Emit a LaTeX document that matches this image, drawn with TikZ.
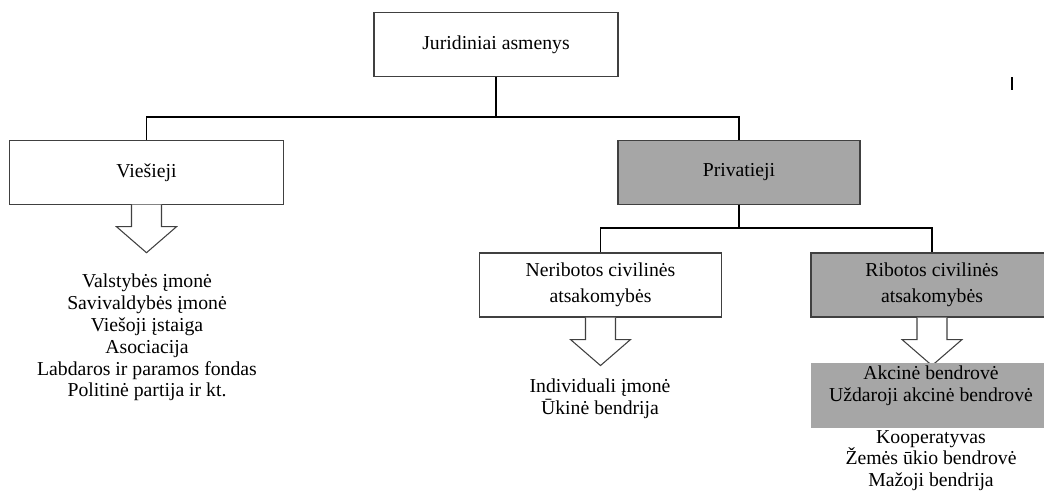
\documentclass[tikz,border=0pt]{standalone}
\usepackage{fontspec}
\setmainfont{Liberation Serif}
\definecolor{boxgray}{HTML}{A6A6A6}
\definecolor{edgegray}{HTML}{404040}

\begin{document}
\begin{tikzpicture}[x=0.75pt,y=-0.75pt,
	font=\fontsize{14.8}{16.4}\selectfont,
	box/.style={draw=edgegray, line width=0.8pt, fill=white, align=center,
		inner sep=0pt, minimum height=47.5pt},
	shadebox/.style={box, fill=boxgray},
	conn/.style={line width=1.1pt, black},
	barrow/.style={draw=edgegray, line width=0.8pt, fill=white},
	list/.style={align=center, inner sep=0pt}]

\def\shaftw{15}
\def\shafth{22}
\def\headw{30}
\def\headh{48}

\path [use as bounding box] (0,0) rectangle (1044,492);

% Boxes
\node [box, minimum width=183pt] (juridiniai) at (496,44.5) {Juridiniai asmenys};
\node [box, minimum width=205pt] (viesieji) at (146.5,172.5) {Viešieji};
\node [shadebox, minimum width=181.5pt] (privatieji) at (739,172.5) {Privatieji};
\node [box, minimum width=182pt, minimum height=48pt] (neribotos) at (600.5,285)
	{Neribotos civilinės\\[3pt]atsakomybės};
\node [shadebox, minimum width=181.5pt, minimum height=48pt] (ribotos) at (932,285)
	{Ribotos civilinės\\[3pt]atsakomybės};

% Lines
\coordinate (jsplit) at (496,117);
\coordinate (psplit) at (739,228);
\draw [conn] (juridiniai.south) -- (jsplit) -| (viesieji.north);
\draw [conn] (jsplit) -| (privatieji.north);
\draw [conn] (privatieji.south) -- (psplit) -| (neribotos.north);
\draw [conn] (psplit) -| (ribotos.north);

% Block arrows
\foreach \b in {viesieji,neribotos,ribotos}
	\draw [barrow] (\b.south)
		+(-\shaftw,0)
		-- +(-\shaftw,\shafth)
		-- +(-\headw,\shafth)
		-- +(0,\headh)
		-- +(\headw,\shafth)
		-- +(\shaftw,\shafth)
		-- +(\shaftw,0);

% Lists
\node [list] (viesujulist) at (147,337.5)
	{Valstybės įmonė\\Savivaldybės įmonė\\Viešoji įstaiga\\Asociacija\\Labdaros ir paramos fondas\\Politinė partija ir kt.};
\node [list] (neribotulist) at (600,398.5) {Individuali įmonė\\Ūkinė bendrija};

\fill [boxgray] (811,363) rectangle (1053,428);
\node [list] (akcines) at (931,385.5) {Akcinė bendrovė\\Uždaroji akcinė bendrovė};
\node [list] (ribotulist) at (931,460.5) {Kooperatyvas\\Žemės ūkio bendrovė\\Mažoji bendrija};

% Stray mark
\draw [line width=1pt] (1012,77) -- (1012,90);

\end{tikzpicture}
\end{document}
